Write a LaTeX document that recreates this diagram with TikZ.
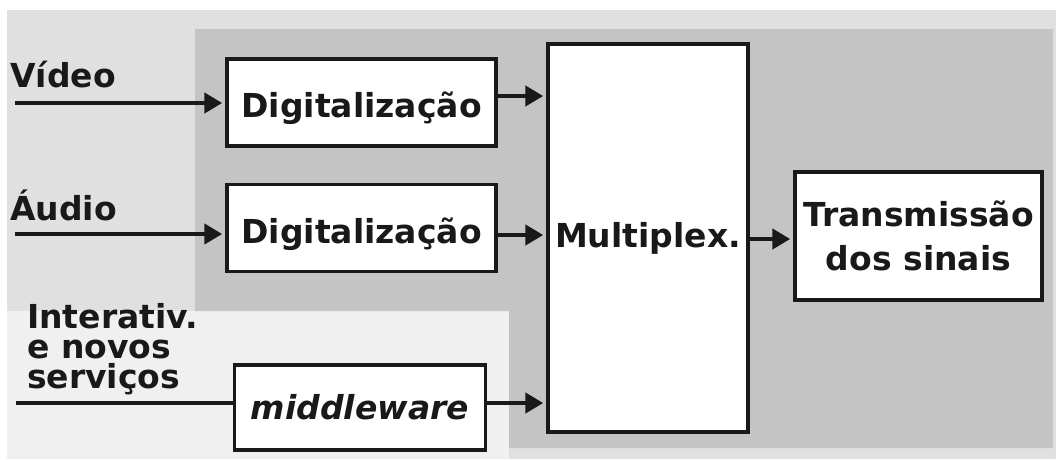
\documentclass[tikz,border=0pt]{standalone}
\usepackage{fontspec}
\setmainfont{DejaVu Sans}
\usetikzlibrary{arrows.meta}
\definecolor{bglight}{gray}{0.88}
\definecolor{bgdark}{gray}{0.77}
\definecolor{bgpale}{gray}{0.94}

\begin{document}
\begin{tikzpicture}[x=1pt,y=-1pt]
  \tikzstyle{every node}+=[inner sep=0pt, font=\fontsize{33}{30}\selectfont\bfseries, text=black!90]
  \tikzstyle{block}=[draw=black!90, line width=3.5pt, fill=white]
  \tikzstyle{digbox}=[block, minimum width=269pt, minimum height=87pt, text height=30pt, text depth=0pt]
  \tikzstyle{arr}=[black!90, line width=4.5pt, -{Triangle[length=18pt,width=20pt]}, shorten >=3pt]
  \useasboundingbox (0,0) rectangle (1056,459);
  \fill [bglight] (7,10) rectangle (1056,459);
  \fill [bgpale] (7,311) rectangle (509,459);
  \fill [bgdark] (195,29) -- (1053,29) -- (1053,448) -- (509,448) -- (509,311) -- (195,311) -- cycle;
  \node [digbox] (dig1) at (361.5,102.5) {Digitalização};
  \node [digbox] (dig2) at (361.5,228) {Digitalização};
  \node [block, minimum width=251pt, minimum height=85pt, font=\fontsize{33}{30}\selectfont\bfseries\itshape] (mw) at (360,407.5) {middleware};
  \node [block, minimum width=200pt, minimum height=388pt] (mux) at (648,238) {Multiplex.};
  \node [block, minimum width=247pt, minimum height=128pt, align=center, font=\fontsize{33}{44}\selectfont\bfseries] (trans) at (918.5,236) {Transmissão\\dos sinais};
  \node [anchor=base west] (video) at (10,87) {Vídeo};
  \node [anchor=base west] (audio) at (10,220) {Áudio};
  \node [anchor=north west, align=left] (inter) at (27,303) {Interativ.\\e novos\\serviços};
  \coordinate (vin) at (15,103);
  \coordinate (ain) at (15,234);
  \coordinate (win) at (16,403);
  \draw [arr] (vin) -- (vin -| dig1.west);
  \draw [arr] (ain) -- (ain -| dig2.west);
  \draw [black!90, line width=4.5pt] (win) -- (win -| mw.west);
  \draw [arr] (dig1.east |- 0,96) -- (mux.west |- 0,96);
  \draw [arr] (dig2.east |- 0,235) -- (mux.west |- 0,235);
  \draw [arr] (mw.east |- 0,403) -- (mux.west |- 0,403);
  \draw [arr] (mux.east |- 0,239) -- (trans.west |- 0,239);
\end{tikzpicture}
\end{document}
